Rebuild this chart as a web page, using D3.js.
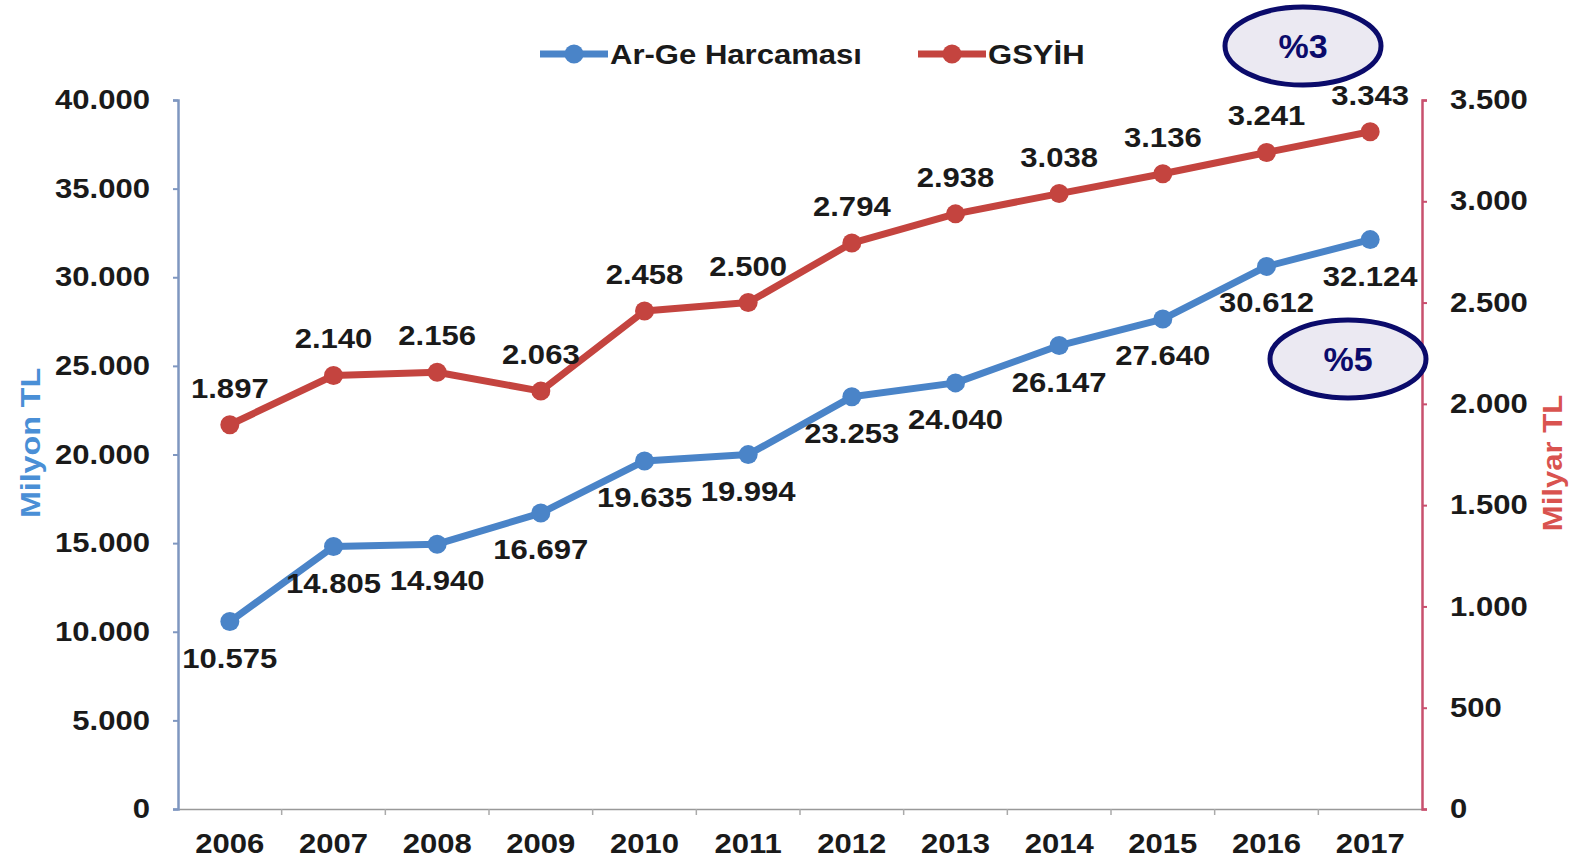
<!DOCTYPE html>
<html>
<head>
<meta charset="utf-8">
<script src="https://cdn.jsdelivr.net/npm/d3@7"></script>
<style>
  body { margin: 0; background: #fff; }
  text { font-family: "Liberation Sans", Arial, sans-serif; font-weight: bold; }
</style>
</head>
<body>
<div class="chart"></div>
<script>
// data
var years = ["2006", "2007", "2008", "2009", "2010", "2011", "2012", "2013", "2014", "2015", "2016", "2017"];
var argeValues = [10575, 14805, 14940, 16697, 19635, 19994, 23253, 24040, 26147, 27640, 30612, 32124];
var gsyihValues = [1897, 2140, 2156, 2063, 2458, 2500, 2794, 2938, 3038, 3136, 3241, 3343];
var leftTicks = [0, 5000, 10000, 15000, 20000, 25000, 30000, 35000, 40000];
var rightTicks = [0, 500, 1000, 1500, 2000, 2500, 3000, 3500];
var seriesNames = ["Ar-Ge Harcaması", "GSYİH"];
var axisTitles = ["Milyon TL", "Milyar TL"];
var notes = ["%3", "%5"];

var svgWidth = 1578;
var svgHeight = 863;

var blue = "#4a84c8";
var red = "#c4443f";
var fontSize = 27;
var stretchK = 1.15;

var svg = d3.select(".chart")
  .append("svg")
  .attr("width", svgWidth)
  .attr("height", svgHeight);

// turkish number format: 40.000
var trFormat = d3.formatLocale({ decimal: ",", thousands: ".", grouping: [3], currency: ["", ""] }).format(",d");

// scales
var xScale = d3.scaleBand()
  .domain(years)
  .range([178, 1422]);

var yLeft = d3.scaleLinear()
  .domain([0, 40000])
  .range([809, 100]);

var yRight = d3.scaleLinear()
  .domain([0, 3500])
  .range([809, 100]);

var cx = d => xScale(d) + xScale.bandwidth() / 2;

// widen text a bit, the original is horizontally stretched
function stretch(sel, k) {
  sel.each(function () {
    var w = this.getComputedTextLength();
    d3.select(this).attr("textLength", w * k).attr("lengthAdjust", "spacingAndGlyphs");
  });
}

// x axis
var xAxis = svg.append("g")
  .attr("transform", "translate(0, 809)")
  .call(d3.axisBottom(xScale).tickSize(0).tickPadding(25));
xAxis.select(".domain").attr("stroke", "#999").attr("stroke-width", 1.5);
xAxis.selectAll("text").attr("font-size", fontSize).attr("fill", "#1a1a1a");

// tick marks between categories
svg.append("g").selectAll("line")
  .data(years.slice(1))
  .enter()
  .append("line")
  .attr("x1", d => xScale(d))
  .attr("x2", d => xScale(d))
  .attr("y1", 809)
  .attr("y2", 815)
  .attr("stroke", "#aaa")
  .attr("stroke-width", 1.5);

// left axis
var leftAxis = svg.append("g")
  .attr("transform", "translate(178, 0)")
  .call(d3.axisLeft(yLeft).tickValues(leftTicks).tickFormat(trFormat).tickSizeOuter(0).tickSize(5).tickPadding(23));
leftAxis.select(".domain").attr("stroke", "#7f97c0").attr("stroke-width", 2.5);
leftAxis.selectAll("line").attr("stroke", "#7f97c0").attr("stroke-width", 2);
leftAxis.selectAll("text").attr("font-size", fontSize).attr("fill", "#1a1a1a");

// right axis
var rightAxis = svg.append("g")
  .attr("transform", "translate(1422, 0)")
  .call(d3.axisRight(yRight).tickValues(rightTicks).tickFormat(trFormat).tickSizeOuter(0).tickSize(5).tickPadding(23));
rightAxis.select(".domain").attr("stroke", "#c8506e").attr("stroke-width", 2.5);
rightAxis.selectAll("line").attr("stroke", "#c8506e").attr("stroke-width", 2);
rightAxis.selectAll("text").attr("font-size", fontSize).attr("fill", "#1a1a1a");

svg.selectAll(".tick text").attr("font-family", "'Liberation Sans', Arial, sans-serif").attr("font-weight", "bold");

// lines
var argeLine = d3.line()
  .x((d, i) => cx(years[i]))
  .y(d => yLeft(d));

var gsyihLine = d3.line()
  .x((d, i) => cx(years[i]))
  .y(d => yRight(d));

svg.append("path")
  .datum(gsyihValues)
  .attr("d", gsyihLine)
  .attr("fill", "none")
  .attr("stroke", red)
  .attr("stroke-width", 7)
  .attr("stroke-linejoin", "round");

svg.append("path")
  .datum(argeValues)
  .attr("d", argeLine)
  .attr("fill", "none")
  .attr("stroke", blue)
  .attr("stroke-width", 7)
  .attr("stroke-linejoin", "round");

// markers
svg.append("g").selectAll("circle")
  .data(gsyihValues)
  .enter()
  .append("circle")
  .attr("cx", (d, i) => cx(years[i]))
  .attr("cy", d => yRight(d))
  .attr("r", 9.5)
  .attr("fill", red);

svg.append("g").selectAll("circle")
  .data(argeValues)
  .enter()
  .append("circle")
  .attr("cx", (d, i) => cx(years[i]))
  .attr("cy", d => yLeft(d))
  .attr("r", 9.5)
  .attr("fill", blue);

// data labels
svg.append("g").selectAll("text")
  .data(gsyihValues)
  .enter()
  .append("text")
  .attr("x", (d, i) => cx(years[i]))
  .attr("y", d => yRight(d) - 27)
  .attr("text-anchor", "middle")
  .attr("font-size", fontSize)
  .attr("fill", "#1a1a1a")
  .text(d => trFormat(d));

svg.append("g").selectAll("text")
  .data(argeValues)
  .enter()
  .append("text")
  .attr("x", (d, i) => cx(years[i]))
  .attr("y", d => yLeft(d) + 46)
  .attr("text-anchor", "middle")
  .attr("font-size", fontSize)
  .attr("fill", "#1a1a1a")
  .text(d => trFormat(d));

// axis titles
svg.append("text")
  .attr("transform", "translate(40, 443) rotate(-90)")
  .attr("text-anchor", "middle")
  .attr("font-size", 28)
  .attr("fill", "#4a8fd6")
  .text(axisTitles[0]);

svg.append("text")
  .attr("transform", "translate(1562, 463) rotate(-90)")
  .attr("text-anchor", "middle")
  .attr("font-size", 27)
  .attr("fill", "#d9534f")
  .text(axisTitles[1]);

// legend
var legend = svg.append("g");
var legendItems = [
  { name: seriesNames[0], color: blue, x: 540 },
  { name: seriesNames[1], color: red, x: 918 }
];
legendItems.forEach(function (it) {
  legend.append("line")
    .attr("x1", it.x).attr("x2", it.x + 68)
    .attr("y1", 54).attr("y2", 54)
    .attr("stroke", it.color).attr("stroke-width", 7);
  legend.append("circle")
    .attr("cx", it.x + 34).attr("cy", 54).attr("r", 9.5)
    .attr("fill", it.color);
  legend.append("text")
    .attr("x", it.x + 70).attr("y", 64)
    .attr("font-size", fontSize)
    .attr("fill", "#1a1a1a")
    .text(it.name);
});

// stretch all the regular texts
stretch(svg.selectAll("text"), stretchK);

// annotation ellipses
var noteSpots = [{ x: 1303, y: 46 }, { x: 1348, y: 359 }];
noteSpots.forEach(function (p, i) {
  svg.append("ellipse")
    .attr("cx", p.x).attr("cy", p.y)
    .attr("rx", 78).attr("ry", 39)
    .attr("fill", "#ebe9f2")
    .attr("stroke", "#0b0b6b")
    .attr("stroke-width", 5);
  svg.append("text")
    .attr("x", p.x).attr("y", p.y + 12)
    .attr("text-anchor", "middle")
    .attr("font-size", 34)
    .attr("fill", "#0b0b6b")
    .text(notes[i]);
});
</script>
</body>
</html>
